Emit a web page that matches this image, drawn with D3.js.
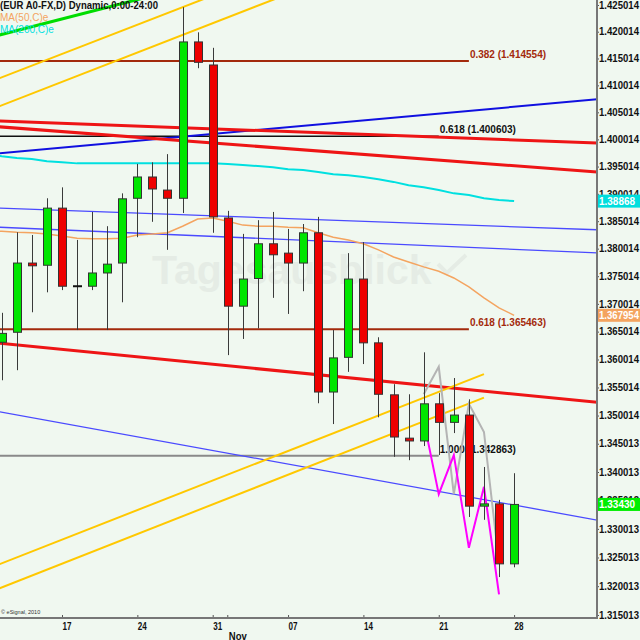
<!DOCTYPE html>
<html><head><meta charset="utf-8">
<script src="https://cdn.jsdelivr.net/npm/d3@7"></script>
<style>html,body{margin:0;padding:0;background:#f0f8f0;} svg{display:block}</style>
</head><body><svg id="c" width="640" height="640"></svg>
<script>
// ---------- DATA ----------
const dates = ["2011-10-10","2011-10-11","2011-10-12","2011-10-13","2011-10-14",
 "2011-10-17","2011-10-18","2011-10-19","2011-10-20","2011-10-21",
 "2011-10-24","2011-10-25","2011-10-26","2011-10-27","2011-10-28",
 "2011-10-31","2011-11-01","2011-11-02","2011-11-03","2011-11-04",
 "2011-11-07","2011-11-08","2011-11-09","2011-11-10","2011-11-11",
 "2011-11-14","2011-11-15","2011-11-16","2011-11-17","2011-11-18",
 "2011-11-21","2011-11-22","2011-11-23","2011-11-24","2011-11-25",
 "2011-11-28"];
// candles start at dates[1]
const openP  = [1.3631,1.3649,1.3774,1.3770,1.3874,1.3732,1.3732,1.3756,1.3774,1.3892,1.3931,1.3907,1.3892,1.4181,1.4138,1.3856,1.3696,1.3746,1.3809,1.3792,1.3774,1.3829,1.3542,1.3604,1.3745,1.3630,1.3537,1.3460,1.3455,1.3521,1.3488,1.3501,1.3340,1.3344,1.3239];
const highP  = [1.3684,1.3830,1.3825,1.3892,1.3912,1.3816,1.3867,1.3841,1.3901,1.3955,1.3958,1.3973,1.4246,1.4199,1.4170,1.3869,1.3827,1.3852,1.3867,1.3836,1.3845,1.3858,1.3653,1.3792,1.3812,1.3640,1.3556,1.3538,1.3613,1.3540,1.3567,1.3529,1.3409,1.3351,1.3398];
const lowP   = [1.3563,1.3581,1.3685,1.3721,1.3725,1.3653,1.3725,1.3653,1.3703,1.3821,1.3849,1.3798,1.3865,1.4132,1.3829,1.3608,1.3637,1.3656,1.3711,1.3682,1.3723,1.3522,1.3485,1.3578,1.3592,1.3497,1.3427,1.3421,1.3446,1.3430,1.3469,1.3321,1.3316,1.3216,1.3233];
const closeP = [1.3647,1.3774,1.3769,1.3874,1.3732,1.3732,1.3756,1.3772,1.3891,1.3931,1.3909,1.3892,1.4181,1.4143,1.3858,1.3696,1.3745,1.3809,1.3789,1.3774,1.3829,1.3542,1.3603,1.3745,1.3630,1.3538,1.3462,1.3455,1.3521,1.3488,1.3501,1.3340,1.3344,1.3239,1.3343];
// moving averages, aligned with dates[0..35]
const ma50  = [1.3832,1.3832,1.3830,1.3829,1.3827,1.3823,1.3819,1.3818,1.3818,1.3819,1.3825,1.3827,1.3829,1.3841,1.3854,1.3856,1.3850,1.3843,1.3841,1.3841,1.3839,1.3838,1.3829,1.3821,1.3816,1.3809,1.3798,1.3785,1.3776,1.3767,1.3759,1.3747,1.3731,1.3711,1.3693,1.367954];
const ma200 = [1.3973,1.3969,1.3966,1.3964,1.3960,1.3958,1.3956,1.3956,1.3956,1.3956,1.3956,1.3956,1.3956,1.3956,1.3956,1.3956,1.3955,1.3953,1.3951,1.3949,1.3945,1.3944,1.3940,1.3936,1.3934,1.3931,1.3927,1.3922,1.3916,1.3912,1.3907,1.3901,1.3898,1.3892,1.3889,1.38868];
// zigzag pattern lines (date index -> price)
const zigIdx = [29,30,31,32,33,34];
const grayZig = [1.3538,1.3587,1.3361,1.3521,1.3471,1.3240];
const magentaZig = [1.3492,1.3361,1.3430,1.3267,1.3374,1.3186];
// trend lines: [index1, price1, index2, price2]
const greenLines  = [[1,1.4195,9,1.4253]];
const yellowUp    = [[1,1.4115,12,1.4235],[1,1.4063,12,1.4183]];
const yellowLow   = [[1,1.3240,33,1.3574],[1,1.3198,33,1.3532]];
const redLines    = [[1,1.4034,40,1.3994],[1,1.4023,40,1.3941],[1,1.3629,40,1.3525]];
const blueThick   = [[1,1.3975,40,1.4073]];
const blueThin    = [[1,1.3874,40,1.3835],[1,1.3839,40,1.3793],[1,1.3506,40,1.3318]];
// fibonacci levels
const fibRatio = ["0.382","0.618","0.618","1.000"];
const fibPrice = [1.414554,1.400603,1.365463,1.342863];
const fibEnd   = [32,30,32,30];
// axis
const yTickVals = [1.425014,1.420014,1.415014,1.410014,1.405014,1.400014,1.395014,1.390014,1.385014,1.380014,1.375014,1.370014,1.365014,1.360014,1.355014,1.350014,1.345013,1.340013,1.335013,1.330013,1.325013,1.320013,1.315013];
const xTickIdx = [5,10,15,20,25,30,35];
const xTickLabels = ["17","24","31","07","14","21","28"];
const monthIdx = 16, monthLabel = "Nov";
const lastClose = 1.33430, lastMa50 = 1.367954, lastMa200 = 1.38868;

// ---------- CHART ----------
const svg = d3.select("#c");
const PR = 597, PB = 618;
const FONT = "Liberation Sans, Arial, sans-serif";
const y = d3.scaleLog().domain([1.315013,1.425014]).range([615,5]);
const x = d3.scaleLinear().domain([0,35]).range([-13.35,514.1]);

svg.append("rect").attr("width",640).attr("height",640).attr("fill","#f0f8f0");
svg.append("defs").append("clipPath").attr("id","plot")
  .append("rect").attr("x",0).attr("y",0).attr("width",PR).attr("height",PB);
const g = svg.append("g").attr("clip-path","url(#plot)");

// watermark
g.append("text").attr("x",152).attr("y",284).text("Tagesausblick")
  .attr("font-family",FONT).attr("font-weight","bold")
  .attr("font-size",41).attr("fill","#e5ece5");
g.append("path").attr("d","M438,264 L447,273 L466,255").attr("fill","none")
  .attr("stroke","#e5ece5").attr("stroke-width",4);

// fib lines
const fibColor = ["#a32a0c","#111111","#a32a0c","#8a8a8a"];
const fibText  = ["#a32a0c","#111111","#a32a0c","#111111"];
fibPrice.forEach((p,i)=>{
  g.append("line").attr("x1",0).attr("x2",x(fibEnd[i])).attr("y1",y(p)).attr("y2",y(p))
    .attr("stroke",fibColor[i]).attr("stroke-width", i===1?1.5:2);
  g.append("text").attr("x",x(fibEnd[i])+1).attr("y",y(p)-3)
    .text(fibRatio[i]+" ("+p.toFixed(6)+")")
    .attr("font-family",FONT).attr("font-weight","bold")
    .attr("font-size",10).attr("fill",fibText[i]);
});

// trend lines
function drawTrend(arr, color, width, extRight){
  arr.forEach(t=>{
    const x1=x(t[0]), y1=y(t[1]), x2=x(t[2]), y2=y(t[3]);
    const s=(y2-y1)/(x2-x1);
    const xa=-5, xb= extRight? PR+5 : x2;
    g.append("line").attr("x1",xa).attr("y1",y1+(xa-x1)*s)
      .attr("x2",xb).attr("y2",y1+(xb-x1)*s)
      .attr("stroke",color).attr("stroke-width",width);
  });
}
drawTrend(blueThin,"#4a4aff",1.3,true);
drawTrend(blueThick,"#1010e0",2,true);
drawTrend(redLines,"#ee1515",3,true);
drawTrend(yellowUp,"#ffc800",2,true);
drawTrend(yellowLow,"#ffc800",2,false);
drawTrend(greenLines,"#00dd00",3,true);

// moving averages
const lineGen = d3.line().x((d,i)=>x(i)).y(d=>y(d));
g.append("path").datum(ma200).attr("d",lineGen).attr("fill","none")
  .attr("stroke","#00e0e0").attr("stroke-width",2);
g.append("path").datum(ma50).attr("d",lineGen).attr("fill","none")
  .attr("stroke","#f4a460").attr("stroke-width",1.5);

// zigzags
const zigGen = d3.line().x(d=>x(d[0])).y(d=>y(d[1]));
g.append("path").datum(zigIdx.map((d,i)=>[d,grayZig[i]])).attr("d",zigGen)
  .attr("fill","none").attr("stroke","#b4b4b4").attr("stroke-width",2);
g.append("path").datum(zigIdx.map((d,i)=>[d,magentaZig[i]])).attr("d",zigGen)
  .attr("fill","none").attr("stroke","#ff00ff").attr("stroke-width",2);

// candles
const candles = openP.map((o,i)=>({i:i+1,o,h:highP[i],l:lowP[i],c:closeP[i]}));
const cg = g.append("g");
candles.forEach(d=>{
  const cx = Math.round(x(d.i))+0.5;
  cg.append("line").attr("x1",cx).attr("x2",cx).attr("y1",y(d.h)).attr("y2",y(d.l))
    .attr("stroke","#3a3a3a").attr("stroke-width",1);
  if (d.o===d.c){
    cg.append("line").attr("x1",cx-4.5).attr("x2",cx+4.5).attr("y1",y(d.o)).attr("y2",y(d.o))
      .attr("stroke","#111").attr("stroke-width",2);
  } else {
    const top=y(Math.max(d.o,d.c)), bot=y(Math.min(d.o,d.c));
    cg.append("rect").attr("x",cx-4).attr("width",8).attr("y",top).attr("height",Math.max(1,bot-top))
      .attr("fill", d.c>d.o? "#00e600":"#ee0000").attr("stroke","#333").attr("stroke-width",1);
  }
});

// header
const hdr = svg.append("g").attr("font-family",FONT).attr("font-size",10);
hdr.append("text").attr("x",0).attr("y",9).attr("font-weight","bold").attr("fill","#111")
  .attr("textLength",158).attr("lengthAdjust","spacingAndGlyphs")
  .text("(EUR A0-FX,D) Dynamic,0:00-24:00");
hdr.append("text").attr("x",0).attr("y",21).attr("fill","#f4a460").text("MA(50,C)e");
hdr.append("text").attr("x",0).attr("y",33).attr("fill","#00e0e0").text("MA(200,C)e");
svg.append("text").attr("x",1).attr("y",614).attr("font-family",FONT)
  .attr("font-size",5.5).attr("fill","#333").text("© eSignal, 2010");

// right axis
const ra = svg.append("g").attr("transform",`translate(${PR},0)`)
  .call(d3.axisRight(y).tickValues(yTickVals).tickFormat(d=>d.toFixed(6)).tickSize(2).tickPadding(0));
ra.select(".domain").remove();
ra.selectAll(".tick line").attr("stroke","#555");
ra.selectAll(".tick text").attr("font-family",FONT)
  .attr("font-weight","bold").attr("font-size",10).attr("fill","#111")
  .attr("textLength",40).attr("lengthAdjust","spacingAndGlyphs");

// bottom axis
const ba = svg.append("g").attr("transform",`translate(0,${PB})`)
  .call(d3.axisBottom(x).tickValues(xTickIdx).tickFormat((d,i)=>xTickLabels[i]).tickSize(-3).tickPadding(4));
ba.select(".domain").remove();
ba.selectAll(".tick line").attr("stroke","#555");
ba.selectAll(".tick text").attr("text-anchor","start").attr("x",0)
  .attr("font-family",FONT).attr("font-weight","bold").attr("font-size",11).attr("fill","#111")
  .attr("textLength",9).attr("lengthAdjust","spacingAndGlyphs");
svg.append("line").attr("x1",x(monthIdx)).attr("x2",x(monthIdx)).attr("y1",PB).attr("y2",PB-3).attr("stroke","#555");
svg.append("text").attr("x",x(monthIdx)+1).attr("y",640).text(monthLabel)
  .attr("font-family",FONT).attr("font-weight","bold").attr("font-size",11).attr("fill","#111")
  .attr("textLength",18).attr("lengthAdjust","spacingAndGlyphs");

// axis frame
svg.append("line").attr("x1",0).attr("x2",PR).attr("y1",PB).attr("y2",PB).attr("stroke","#777").attr("stroke-width",2);
svg.append("line").attr("x1",PR).attr("x2",PR).attr("y1",0).attr("y2",PB+1).attr("stroke","#777").attr("stroke-width",2);

// last value badges
function badge(v, fill, label, w){
  const yy = y(v);
  svg.append("rect").attr("x",PR+1).attr("y",yy-6.5).attr("width",43).attr("height",13).attr("fill",fill);
  svg.append("text").attr("x",PR+2).attr("y",yy+4).text(label)
    .attr("font-family",FONT).attr("font-weight","bold")
    .attr("font-size",10).attr("fill","#fff")
    .attr("textLength",w).attr("lengthAdjust","spacingAndGlyphs");
}
badge(lastMa200,"#00dede",lastMa200.toFixed(5),36);
badge(lastMa50,"#f4a460",lastMa50.toFixed(6),40);
badge(lastClose,"#00ee00",lastClose.toFixed(5),36);
</script></body></html>
